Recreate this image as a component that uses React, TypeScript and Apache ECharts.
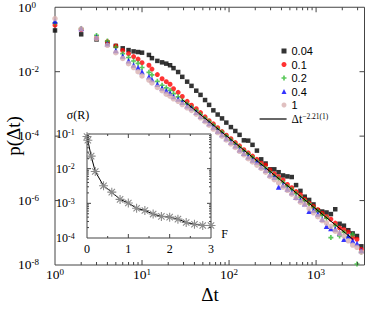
import React, { useEffect, useRef } from "react";
import * as echarts from "echarts";

// ---------- data ----------
// waiting-time values Δt (log-binned beyond 10)
const deltaT = [1,2,3,4,5,6,7,8,9,10,12,13,15,17,19,21,23,26,29,33,37,42,47,53,59,66,74,83,93,105,118,132,148,166,186,209,234,263,295,331,371,417,468,525,589,661,741,832,933,1047,1175,1318,1479,1660,1862,2089,2344,2630,2951,3311];

// p(Δt), stored as log10 values
const logP_004 = [-0.72,-0.84,-1.00,-1.11,-1.20,-1.275,-1.33,-1.37,-1.39,-1.41,
 -1.48,-1.58,-1.665,-1.71,-1.75,-1.80,-1.89,-2.01,-2.16,-2.31,
 -2.44,-2.59,-2.72,-2.88,-3.03,-3.20,-3.33,-3.45,-3.58,-3.72,
 -3.84,-3.96,-4.13,-4.14,-4.27,-4.45,-4.72,-4.85,-5.03,-5.03,
 -5.12,-5.22,-5.25,-5.27,-5.52,-5.70,-5.88,-5.98,-6.12,-6.30,
 -6.34,-6.37,-6.42,-6.27,-6.72,-6.78,-6.92,-7.02,-7.10,-7.42];
const logP_01 = [-0.556,-0.69,-0.95,-1.07,-1.20,-1.34,-1.44,-1.53,-1.61,-1.72,
 -1.80,-1.92,-2.09,-2.22,-2.31,-2.39,-2.53,-2.64,-2.77,-2.92,
 -3.04,-3.15,-3.27,-3.40,-3.52,-3.62,-3.74,-3.86,-3.97,-4.08,
 -4.20,-4.30,-4.42,-4.52,-4.62,-4.72,-4.84,-4.90,-5.05,-5.17,
 -5.26,-5.36,-5.50,-5.60,-5.72,-5.82,-5.96,-6.08,-6.18,-6.28,
 -6.40,-6.50,-6.58,-6.70,-6.85,-6.90,-6.98,-7.15,-7.20,-7.52];
const logP_02 = [-0.48,-0.66,-0.875,-1.05,-1.235,-1.44,-1.56,-1.667,-1.74,-1.87,
 -2.02,-2.10,-2.30,-2.42,-2.50,-2.58,-2.68,-2.78,-2.90,-3.00,
 -3.10,-3.21,-3.33,-3.45,-3.55,-3.66,-3.78,-3.88,-4.00,-4.12,
 -4.24,-4.34,-4.46,-4.56,-4.66,-4.78,-4.90,-5.00,-5.12,-5.24,
 -5.32,-5.44,-5.56,-5.66,-5.78,-5.90,-6.00,-6.10,-6.22,-6.32,
 -6.45,-6.55,-7.15,-6.78,-7.10,-6.98,-7.12,-7.05,-7.97,-7.60];
const logP_04 = [-0.43,-0.66,-0.92,-1.13,-1.34,-1.51,-1.66,-1.79,-1.87,-2.00,
 -2.16,-2.24,-2.39,-2.51,-2.59,-2.67,-2.77,-2.85,-2.95,-3.06,
 -3.13,-3.26,-3.38,-3.50,-3.61,-3.72,-3.84,-3.95,-4.07,-4.18,
 -4.30,-4.42,-4.53,-4.64,-4.74,-4.80,-4.95,-5.06,-5.20,-5.28,
 -5.58,-5.52,-5.64,-5.75,-5.90,-5.98,-6.10,-6.33,-6.30,-6.42,
 -6.58,-6.80,-6.87,-6.88,-7.00,-7.20,-7.10,-7.25,-7.33,-7.55];
const logP_1 = [-0.35,-0.67,-0.97,-1.18,-1.41,-1.59,-1.75,-1.87,-2.00,-2.13,
 -2.26,-2.35,-2.49,-2.59,-2.70,-2.76,-2.84,-2.92,-3.02,-3.12,
 -3.20,-3.32,-3.43,-3.55,-3.66,-3.78,-3.89,-4.00,-4.12,-4.24,
 -4.35,-4.47,-4.58,-4.70,-4.80,-4.90,-5.00,-5.12,-5.25,-5.35,
 -5.45,-5.58,-5.68,-5.80,-5.92,-6.05,-6.12,-6.25,-6.38,-6.50,
 -6.62,-6.70,-6.80,-6.95,-7.02,-7.10,-7.25,-7.38,-7.45,-7.60];

const seriesNames = ["0.04", "0.1", "0.2", "0.4", "1"];

// power-law guide Δt^-2.21 (end points)
const fitT = [29, 2630];
const fitP = [1.35e-3, 6.4e-8];
const fitName = "fit";

// inset: σ(R) vs F
const insetF = [0, 0.02, 0.1, 0.2, 0.4, 0.6, 0.8, 1.0, 1.2, 1.4, 1.6, 1.8, 2.0, 2.2, 2.4, 2.6, 2.8, 3.0];
const insetSigma = [0.085, 0.066, 0.023, 0.0083, 0.0032, 0.0021, 0.0013, 0.00102, 0.00072, 0.00062, 0.00049, 0.00042, 0.00040, 0.00035, 0.00028, 0.00025, 0.00023, 0.00023];

// ---------- style ----------
const SERIF = '"Liberation Serif", "DejaVu Serif", serif';
const SANS = '"Liberation Sans", Arial, sans-serif';
const AXIS_COLOR = "#444";

const X_MIN = 1, X_MAX = 3600, Y_MIN = 1e-8, Y_MAX = 1;
const IN_X_MIN = 0, IN_X_MAX = 3, IN_Y_MIN = 1e-4, IN_Y_MAX = 1e-1;

const STAR =
  "path://M-5,-0.6H5V0.6H-5Z M-0.6,-5H0.6V5H-0.6Z M3.96,3.11L3.11,3.96L-3.96,-3.11L-3.11,-3.96Z M-3.96,3.11L3.11,-3.96L3.96,-3.11L-3.11,3.96Z";
const PLUS = "path://M2,0H4V2H6V4H4V6H2V4H0V2H2Z";

function powExp(v: number): number | null {
  const e = Math.log10(v);
  const r = Math.round(e);
  return Math.abs(e - r) < 1e-6 ? r : null;
}

function supRich(base: number, sup: number, raise: number) {
  return {
    b: { fontFamily: SERIF, fontSize: base, lineHeight: base, color: "#000", verticalAlign: "bottom" },
    s: { fontFamily: SERIF, fontSize: sup, lineHeight: sup, color: "#000", verticalAlign: "bottom", padding: [0, 0, raise, 0] },
  };
}

function mainTicks(): number[][] {
  const out: number[][] = [];
  for (let k = 0; k <= 3; k++) {
    for (let m = 1; m <= 9; m++) {
      const v = m * Math.pow(10, k);
      if (v <= X_MIN || v >= X_MAX) continue;
      const len = m === 1 ? 5 : 3;
      out.push([v, Y_MIN, 0, -len]);
      out.push([v, Y_MAX, 0, len]);
    }
  }
  for (const v of [1e-2, 1e-4, 1e-6]) {
    out.push([X_MIN, v, 5, 0]);
    out.push([X_MAX, v, -5, 0]);
  }
  return out;
}

function insetTicks(): number[][] {
  const out: number[][] = [];
  for (const v of [0.5, 1, 1.5, 2, 2.5]) {
    const len = Number.isInteger(v) ? 4 : 2;
    out.push([v, IN_Y_MIN, 0, -len]);
    out.push([v, IN_Y_MAX, 0, len]);
  }
  for (let k = -4; k <= -2; k++) {
    for (let m = 1; m <= 9; m++) {
      const v = m * Math.pow(10, k);
      if (v <= IN_Y_MIN * 1.0001 || v >= IN_Y_MAX * 0.9999) continue;
      const len = m === 1 ? 4 : 2;
      out.push([IN_X_MIN, v, len, 0]);
      out.push([IN_X_MAX, v, -len, 0]);
    }
  }
  return out;
}

const renderTick = (_params: any, api: any) => {
  const p = api.coord([api.value(0), api.value(1)]);
  return {
    type: "line",
    silent: true,
    shape: { x1: p[0], y1: p[1], x2: p[0] + api.value(2), y2: p[1] + api.value(3) },
    style: { stroke: AXIS_COLOR, lineWidth: 1 },
  };
};

function scatter(name: string, logs: number[], symbol: string, size: number, color: string) {
  return {
    type: "scatter",
    name,
    xAxisIndex: 0,
    yAxisIndex: 0,
    symbol,
    symbolSize: size,
    itemStyle: { color },
    z: 3,
    data: deltaT.map((t, i) => [t, Math.pow(10, logs[i])]),
  };
}

export default function App() {
  const ref = useRef<HTMLDivElement>(null);

  useEffect(() => {
    if (!ref.current) return;
    const chart = echarts.init(ref.current, null, { renderer: "svg" });
    const option: any = {
      animation: false,
      backgroundColor: "#fff",
      grid: [
        { left: 55, top: 6, right: 1.5, bottom: 47, show: true, borderColor: AXIS_COLOR, borderWidth: 1, backgroundColor: "transparent" },
        { left: 87, top: 134, right: 155, bottom: 74, show: true, borderColor: AXIS_COLOR, borderWidth: 1, backgroundColor: "#fff", z: 3 },
      ],
      xAxis: [
        {
          type: "log", gridIndex: 0, logBase: 10, min: X_MIN, max: X_MAX,
          axisLine: { show: false }, axisTick: { show: false }, splitLine: { show: false },
          axisLabel: {
            margin: 3, showMaxLabel: false,
            formatter: (v: number) => { const e = powExp(v); return e === null ? "" : `{b|10}{s|${e}}`; },
            rich: supRich(13.5, 9, 5),
          },
        },
        {
          type: "value", gridIndex: 1, min: IN_X_MIN, max: IN_X_MAX, interval: 1,
          axisLine: { show: false }, axisTick: { show: false }, splitLine: { show: false },
          axisLabel: { margin: 5, fontFamily: SERIF, fontSize: 12, color: "#000" },
        },
      ],
      yAxis: [
        {
          type: "log", gridIndex: 0, logBase: 10, min: Y_MIN, max: Y_MAX,
          axisLine: { show: false }, axisTick: { show: false }, splitLine: { show: false },
          axisLabel: {
            align: "left", margin: 37,
            formatter: (v: number) => { const e = powExp(v); return e === null || e % 2 !== 0 ? "" : `{b|10}{s|${e}}`; },
            rich: supRich(13.5, 9, 5),
          },
        },
        {
          type: "log", gridIndex: 1, logBase: 10, min: IN_Y_MIN, max: IN_Y_MAX,
          axisLine: { show: false }, axisTick: { show: false }, splitLine: { show: false },
          axisLabel: {
            align: "left", margin: 31,
            formatter: (v: number) => { const e = powExp(v); return e === null ? "" : `{b|10}{s|${e}}`; },
            rich: supRich(12, 8, 4),
          },
        },
      ],
      legend: [
        {
          data: seriesNames, orient: "vertical", left: 276.5, top: 40.5,
          itemWidth: 5, itemHeight: 5, itemGap: 2.5, selectedMode: false,
          textStyle: { fontFamily: SANS, fontSize: 11, lineHeight: 11, color: "#000" },
        },
        {
          data: [fitName], orient: "vertical", left: 254, top: 107,
          itemWidth: 27, itemHeight: 14, selectedMode: false,
          itemStyle: { opacity: 0, borderWidth: 0 },
          lineStyle: { color: "#000", width: 1.2 },
          formatter: () => "{b|Δt}{s|−2.21(1)}",
          textStyle: {
            rich: {
              b: { fontFamily: SERIF, fontSize: 11.5, lineHeight: 12, color: "#000", verticalAlign: "bottom" },
              s: { fontFamily: SERIF, fontSize: 7.5, lineHeight: 8, color: "#000", verticalAlign: "bottom", padding: [0, 0, 5, 0] },
            },
          },
        },
      ],
      graphic: [
        { type: "text", x: 13, y: 136, rotation: Math.PI / 2, style: { text: "p(Δt)", font: `19px ${SERIF}`, fill: "#000", align: "center", verticalAlign: "middle", textAlign: "center", textVerticalAlign: "middle" } },
        { type: "text", x: 210, y: 294, style: { text: "Δt", font: `19px ${SERIF}`, fill: "#000", align: "center", verticalAlign: "middle", textAlign: "center", textVerticalAlign: "middle" } },
        { type: "text", x: 78, y: 115, style: { text: "σ(R)", font: `12px ${SERIF}`, fill: "#000", align: "center", verticalAlign: "middle", textAlign: "center", textVerticalAlign: "middle" } },
        { type: "text", x: 224.5, y: 234, style: { text: "F", font: `12px ${SERIF}`, fill: "#000", align: "center", verticalAlign: "middle", textAlign: "center", textVerticalAlign: "middle" } },
      ],
      series: [
        scatter(seriesNames[0], logP_004, "rect", 4.5, "#000000"),
        scatter(seriesNames[1], logP_01, "circle", 5, "#ff0000"),
        scatter(seriesNames[2], logP_02, PLUS, 5, "#33bb33"),
        scatter(seriesNames[3], logP_04, "triangle", 5.5, "#0000ff"),
        scatter(seriesNames[4], logP_1, "circle", 5.5, "#d8b0b0"),
        {
          type: "line", name: fitName, xAxisIndex: 0, yAxisIndex: 0, symbol: "none", z: 4,
          lineStyle: { color: "#000", width: 1 }, itemStyle: { color: "#000" },
          data: fitT.map((t, i) => [t, fitP[i]]),
        },
        {
          type: "custom", xAxisIndex: 0, yAxisIndex: 0, renderItem: renderTick, clip: false, silent: true, z: 5,
          encode: { x: 0, y: 1 }, data: mainTicks(),
        },
        {
          type: "line", xAxisIndex: 1, yAxisIndex: 1, symbol: STAR, symbolSize: 9, z: 6,
          lineStyle: { color: "#000", width: 1 }, itemStyle: { color: "#8a8a8a" },
          data: insetF.map((f, i) => [f, insetSigma[i]]),
        },
        {
          type: "custom", xAxisIndex: 1, yAxisIndex: 1, renderItem: renderTick, clip: false, silent: true, z: 7,
          encode: { x: 0, y: 1 }, data: insetTicks(),
        },
      ],
    };
    chart.setOption(option);
    return () => chart.dispose();
  }, []);

  return <div ref={ref} style={{ width: 366, height: 312, position: "fixed", left: 0, top: 0 }} />;
}
